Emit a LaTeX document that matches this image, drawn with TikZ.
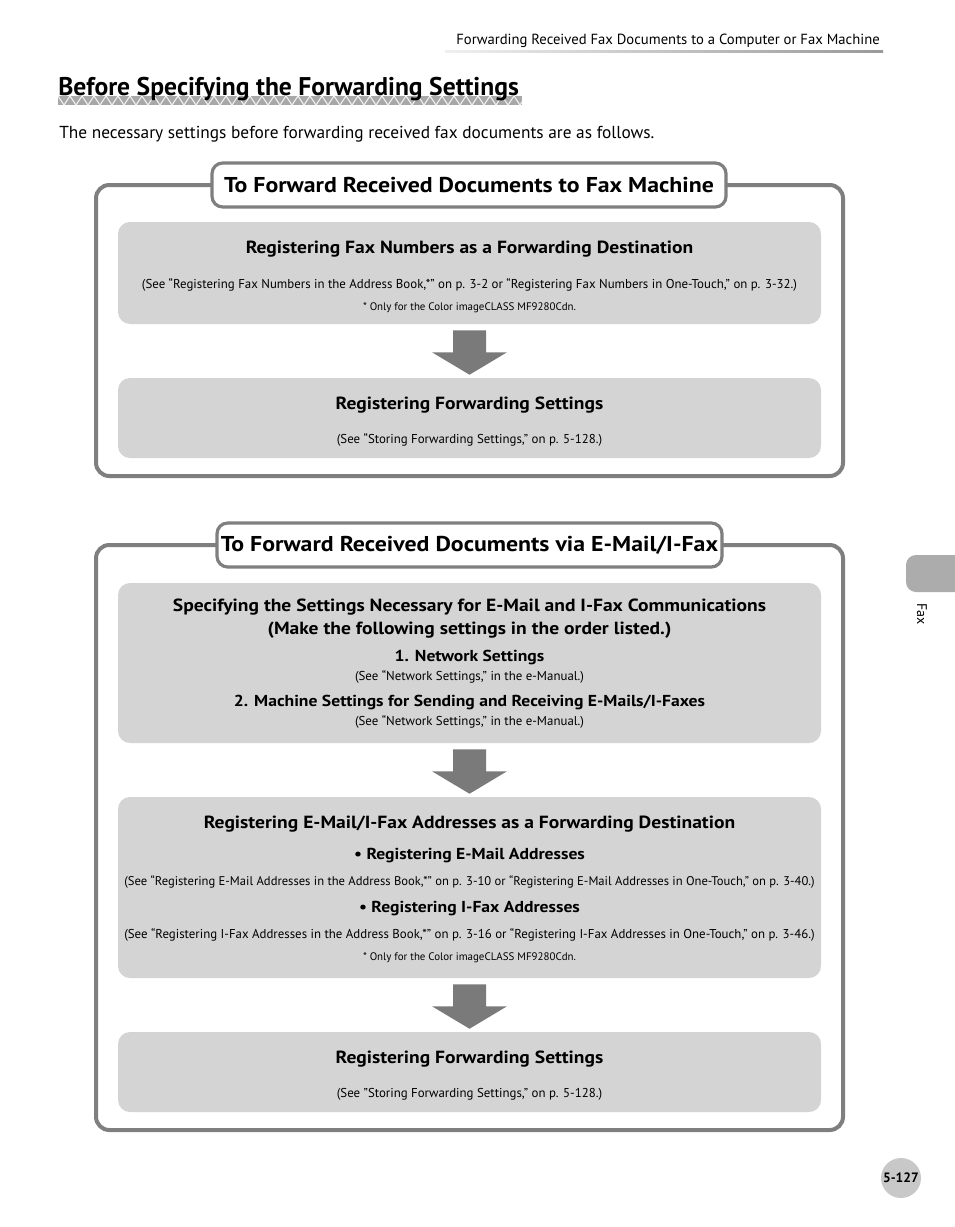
\documentclass[tikz,border=0pt]{standalone}
\usepackage{fontspec}
\setmainfont{PT Sans}
\usetikzlibrary{calc}
\definecolor{frgray}{HTML}{7F7F7F}
\definecolor{inbox}{HTML}{D4D4D4}
\definecolor{arrowc}{HTML}{7A7A7A}
\definecolor{tabc}{HTML}{ACACAC}
\definecolor{pgc}{HTML}{C8C8C8}
\definecolor{zigc}{HTML}{A8A8A8}
\newfontfamily\widebf{PT Sans Bold}[FakeStretch=1.11]
\newcommand\fsz[1]{\fontsize{#1}{#1}\selectfont}
\newcommand\flowarrow[2]{\fill[arrowc] let \p1=(#1.south), \p2=(#2.north) in
 (\x1-12.375pt,\y1-4.5pt) -- (\x1+12.375pt,\y1-4.5pt) -- (\x1+12.375pt,\y1-21pt)
 -- (\x1+28.125pt,\y1-21pt) -- (\x1,\y2+2.25pt) -- (\x1-28.125pt,\y1-21pt)
 -- (\x1-12.375pt,\y1-21pt) -- cycle;}
\tikzset{
  outerframe/.style={draw=frgray, line width=3pt, rounded corners=10pt},
  titlebox/.style={draw=frgray, line width=2.4pt, rounded corners=8pt, fill=white,
     minimum height=33pt, inner sep=0pt, font=\widebf\fsz{16.1}},
  innerbox/.style={fill=inbox, rounded corners=9pt, minimum width=527.25pt, inner sep=0pt},
  txt/.style={anchor=base, inner sep=0pt},
  hd/.style={txt, font=\widebf\fsz{13.2}},
  sub/.style={txt, font=\widebf\fsz{11.9}},
  see/.style={txt, font=\fsz{9.65}},
  note/.style={txt, font=\fsz{8.2}},
}
\begin{document}
\begin{tikzpicture}[x=0.75pt,y=-0.75pt]
\useasboundingbox (0,0) rectangle (954,1227);
\fill[white] (0,0) rectangle (954,1227);

% header
\node[anchor=base east, inner sep=0pt, font=\fsz{11.0}] (hdr) at (880,45)
  {Forwarding Received Fax Documents to a Computer or Fax Machine};
\shade[left color=gray!12, right color=gray!80] (445,51) rectangle (883,53);

% title with zigzag band
\begin{scope}
\clip (58,96) rectangle (522,105);
\fill[zigc] (58,96) rectangle (522,105);
\foreach \i in {0,...,39}{
  \draw[white!85!zigc, line width=0.8pt] (58+12*\i,96) -- (64+12*\i,105) -- (70+12*\i,96);
}
\end{scope}
\node[anchor=base west, inner sep=0pt, font=\fsz{19.2}\bfseries] (title) at (58,96)
  {Before Specifying the Forwarding Settings};

\node[anchor=base west, inner sep=0pt, font=\fsz{13.0}] (intro) at (59,139)
  {The necessary settings before forwarding received fax documents are as follows.};

% ---------- Box 1 ----------
\draw[outerframe] (96,185) rectangle (843,476);
\node[titlebox, minimum width=385.5pt] (t1) at (469,185)
  {To Forward Received Documents to Fax Machine};

\node[innerbox, minimum height=76.5pt] (a1) at (469.5,273) {};
\node[hd] (a1h) at (469.5,253) {Registering Fax Numbers as a Forwarding Destination};
\node[see] (a1s) at (469.5,288) {(See “Registering Fax Numbers in the Address Book,*” on p. 3-2 or “Registering Fax Numbers in One-Touch,” on p. 3-32.)};
\node[note] (a1n) at (469.5,310) {* Only for the Color imageCLASS MF9280Cdn.};

\node[innerbox, minimum height=60pt] (a2) at (469.5,418) {};
\node[hd] (a2h) at (469.5,409) {Registering Forwarding Settings};
\node[see] (a2s) at (469.5,443) {(See “Storing Forwarding Settings,” on p. 5-128.)};

\flowarrow{a1}{a2}

% ---------- Box 2 ----------
\draw[outerframe] (96,545) rectangle (843,1130);
\node[titlebox, minimum width=378.75pt] (t2) at (469.5,545)
  {To Forward Received Documents via E-Mail/I-Fax};

\node[innerbox, minimum height=120pt] (b1) at (469.5,663) {};
\node[hd] (b1h) at (469.5,611) {Specifying the Settings Necessary for E-Mail and I-Fax Communications};
\node[hd] (b1h2) at (469.5,634) {(Make the following settings in the order listed.)};
\node[sub] (b1a) at (469.5,661) {1. Network Settings};
\node[see] (b1as) at (469.5,680) {(See “Network Settings,” in the e-Manual.)};
\node[sub] (b1b) at (469.5,706) {2. Machine Settings for Sending and Receiving E-Mails/I-Faxes};
\node[see] (b1bs) at (469.5,725) {(See “Network Settings,” in the e-Manual.)};

\node[innerbox, minimum height=135.75pt] (b2) at (469.5,887.5) {};
\node[hd] (b2h) at (469.5,828) {Registering E-Mail/I-Fax Addresses as a Forwarding Destination};
\node[sub] (b2a) at (469.5,859) {• Registering E-Mail Addresses};
\node[see, font=\fsz{9.45}] (b2as) at (469.5,885) {(See “Registering E-Mail Addresses in the Address Book,*” on p. 3-10 or “Registering E-Mail Addresses in One-Touch,” on p. 3-40.)};
\node[sub] (b2b) at (469.5,912) {• Registering I-Fax Addresses};
\node[see] (b2bs) at (469.5,938) {(See “Registering I-Fax Addresses in the Address Book,*” on p. 3-16 or “Registering I-Fax Addresses in One-Touch,” on p. 3-46.)};
\node[note] (b2n) at (469.5,960) {* Only for the Color imageCLASS MF9280Cdn.};

\node[innerbox, minimum height=60pt] (b3) at (469.5,1072) {};
\node[hd] (b3h) at (469.5,1063) {Registering Forwarding Settings};
\node[see] (b3s) at (469.5,1097) {(See "Storing Forwarding Settings," on p. 5-128.)};

\flowarrow{b1}{b2}
\flowarrow{b2}{b3}

% side tab
\fill[tabc, rounded corners=7.5pt] (906,555) rectangle (975,592);
\node[rotate=-90, inner sep=0pt, font=\fsz{10.5}] (fax) at (922,614) {Fax};

% page number
\node[circle, fill=pgc, minimum size=30pt, inner sep=0pt, font=\fsz{10.2}\bfseries] (pg) at (901,1178) {5-127};
\end{tikzpicture}
\end{document}
